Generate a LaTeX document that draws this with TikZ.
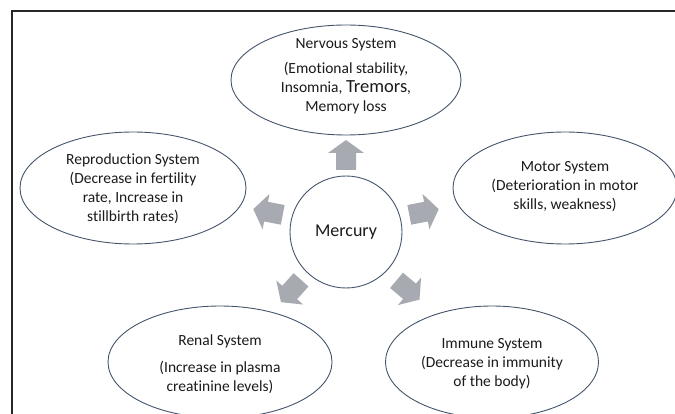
\documentclass[tikz,border=0pt]{standalone}
\usepackage{fontspec}
\setmainfont[Ligatures=NoCommon]{Carlito}
\usetikzlibrary{shapes.geometric}
\definecolor{edgecol}{HTML}{44546A}
\definecolor{arrcol}{HTML}{A7AAB1}
\definecolor{framecol}{HTML}{262626}
\definecolor{txtcol}{HTML}{1A1A1A}
\newcommand{\blockarrowat}[4]{%
  \begin{scope}[shift={(#2,#3)}, rotate=#4]
    \coordinate (#1) at (0,0);
    \fill[arrcol] (-15,-10) -- (2,-10) -- (2,-18) -- (15,0) -- (2,18) -- (2,10) -- (-15,10) -- cycle;
  \end{scope}}
\begin{document}
\begin{tikzpicture}[x=1pt,y=-1pt,
  sysbox/.style={ellipse, draw=edgecol, line width=0.9pt, inner sep=0pt},
  systext/.style={align=center, inner sep=0pt, text=txtcol, font=\fontsize{15.5}{19}\selectfont}]
\useasboundingbox (0,0) rectangle (675,414);
% frame
\coordinate (fTL) at (12,11);
\coordinate (fTR) at (676,11);
\coordinate (fBL) at (12,415);
\draw[framecol, line width=1.4pt] (fTR) -- (fTL) -- (fBL);

% centre
\node[circle, draw=edgecol, line width=0.9pt, minimum size=112pt, inner sep=0pt,
  font=\fontsize{18}{20}\selectfont, text=txtcol] (hg) at (346,232) {Mercury};

% systems
\node[sysbox, minimum width=230pt, minimum height=110pt] (nerv) at (346,80) {};
\node[systext] (nervT) at (346,76) {Nervous System\\[6pt](Emotional stability,\\Insomnia, {\fontsize{18.5}{19}\selectfont Tremors},\\Memory loss};

\node[sysbox, minimum width=226pt, minimum height=112pt] (repr) at (133,188) {};
\node[systext] (reprT) at (133,189) {Reproduction System\\(Decrease in fertility\\rate, Increase in\\stillbirth rates)};

\node[sysbox, minimum width=224pt, minimum height=112pt] (motor) at (565,188) {};
\node[systext] (motorT) at (565,187) {Motor System\\(Deterioration in motor\\skills, weakness)};

\node[sysbox, minimum width=224pt, minimum height=112pt] (renal) at (220,362) {};
\node[systext] (renalT) at (220,364) {Renal System\\[8pt](Increase in plasma\\creatinine levels)};

\node[sysbox, minimum width=213pt, minimum height=112pt] (immune) at (492,362) {};
\node[systext] (immuneT) at (492,364) {Immune System\\(Decrease in immunity\\of the body)};

% block arrows
\blockarrowat{aUp}{346}{155}{90}
\blockarrowat{aRight}{424}{212}{11}
\blockarrowat{aLeft}{268}{212}{169}
\blockarrowat{aLL}{291}{291}{228}
\blockarrowat{aLR}{408}{290}{320}
\end{tikzpicture}
\end{document}
